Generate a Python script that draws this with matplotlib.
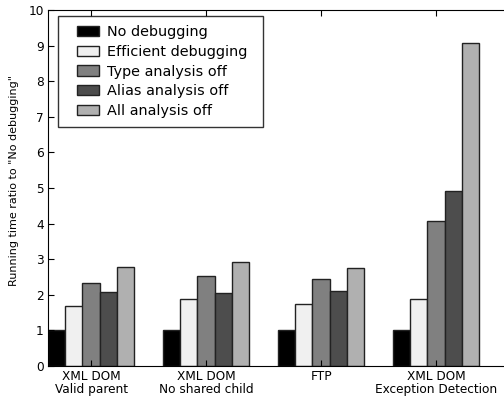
import numpy as np
import matplotlib
matplotlib.use("Agg")
import matplotlib.pyplot as plt
from matplotlib.patches import Rectangle
from matplotlib.container import BarContainer
from matplotlib.legend_handler import HandlerPatch, update_from_first_child

# Datos
grupos = ["XML DOM\nValid parent", "XML DOM\nNo shared child", "FTP", "XML DOM\nException Detection"]
series = ["No debugging", "Efficient debugging", "Type analysis off", "Alias analysis off", "All analysis off"]
no_debug = [1.0, 1.0, 1.0, 1.0]
efficient = [1.68, 1.87, 1.74, 1.87]
type_off = [2.34, 2.53, 2.43, 4.06]
alias_off = [2.09, 2.06, 2.12, 4.91]
all_off = [2.77, 2.91, 2.74, 9.06]

colores = ["#000000", "#f0f0f0", "#808080", "#4d4d4d", "#b0b0b0"]
valores = [no_debug, efficient, type_off, alias_off, all_off]

fig = plt.figure(figsize=(5.04, 3.98), dpi=100)
# el eje derecho queda fuera de la imagen (recortado en el original)
ax = fig.add_axes([48/504, 32/398, 474/504, 356/398])

ind = np.arange(len(grupos))
width = 0.15
for k in range(len(series)):
    ax.bar(ind + k*width, valores[k], width, align="edge", color=colores[k],
           edgecolor="#222222", linewidth=1.0, label=series[k])

ax.set_xlim(0, 474/115.0)
ax.set_ylim(0, 10)
ax.set_xticks(ind + 2.5*width)
ax.set_xticklabels(grupos, fontsize=8.7, linespacing=0.95)
ax.set_yticks(range(0, 11))
ax.tick_params(axis="y", labelsize=8.7, direction="in", right=True, length=4, pad=3)
ax.tick_params(axis="x", direction="in", top=True, length=4, pad=3)
ax.set_ylabel('Running time ratio to "No debugging"', fontsize=8)
ax.yaxis.set_label_coords(-0.062, 0.522)

# cuadrito de la leyenda con un margen extra a la izquierda
def cuadro(legend, orig_handle, xdescent, ydescent, width, height, fontsize):
    off = 7
    return Rectangle((-xdescent + off, -ydescent), width - off, height)

# modo expand para que la caja tenga el ancho del original
leg = ax.legend(loc="upper left", bbox_to_anchor=(10/474, 0, 205/474, 1 - 6/356),
                mode="expand", borderaxespad=0,
                fontsize=10.4, fancybox=False, edgecolor="black",
                handlelength=2.2, handleheight=0.7, handletextpad=0.55,
                labelspacing=0.4, borderpad=0.62,
                handler_map={BarContainer: HandlerPatch(patch_func=cuadro, update_func=update_from_first_child)})
leg.get_frame().set_linewidth(1.0)

plt.savefig("out.png", dpi=100)
